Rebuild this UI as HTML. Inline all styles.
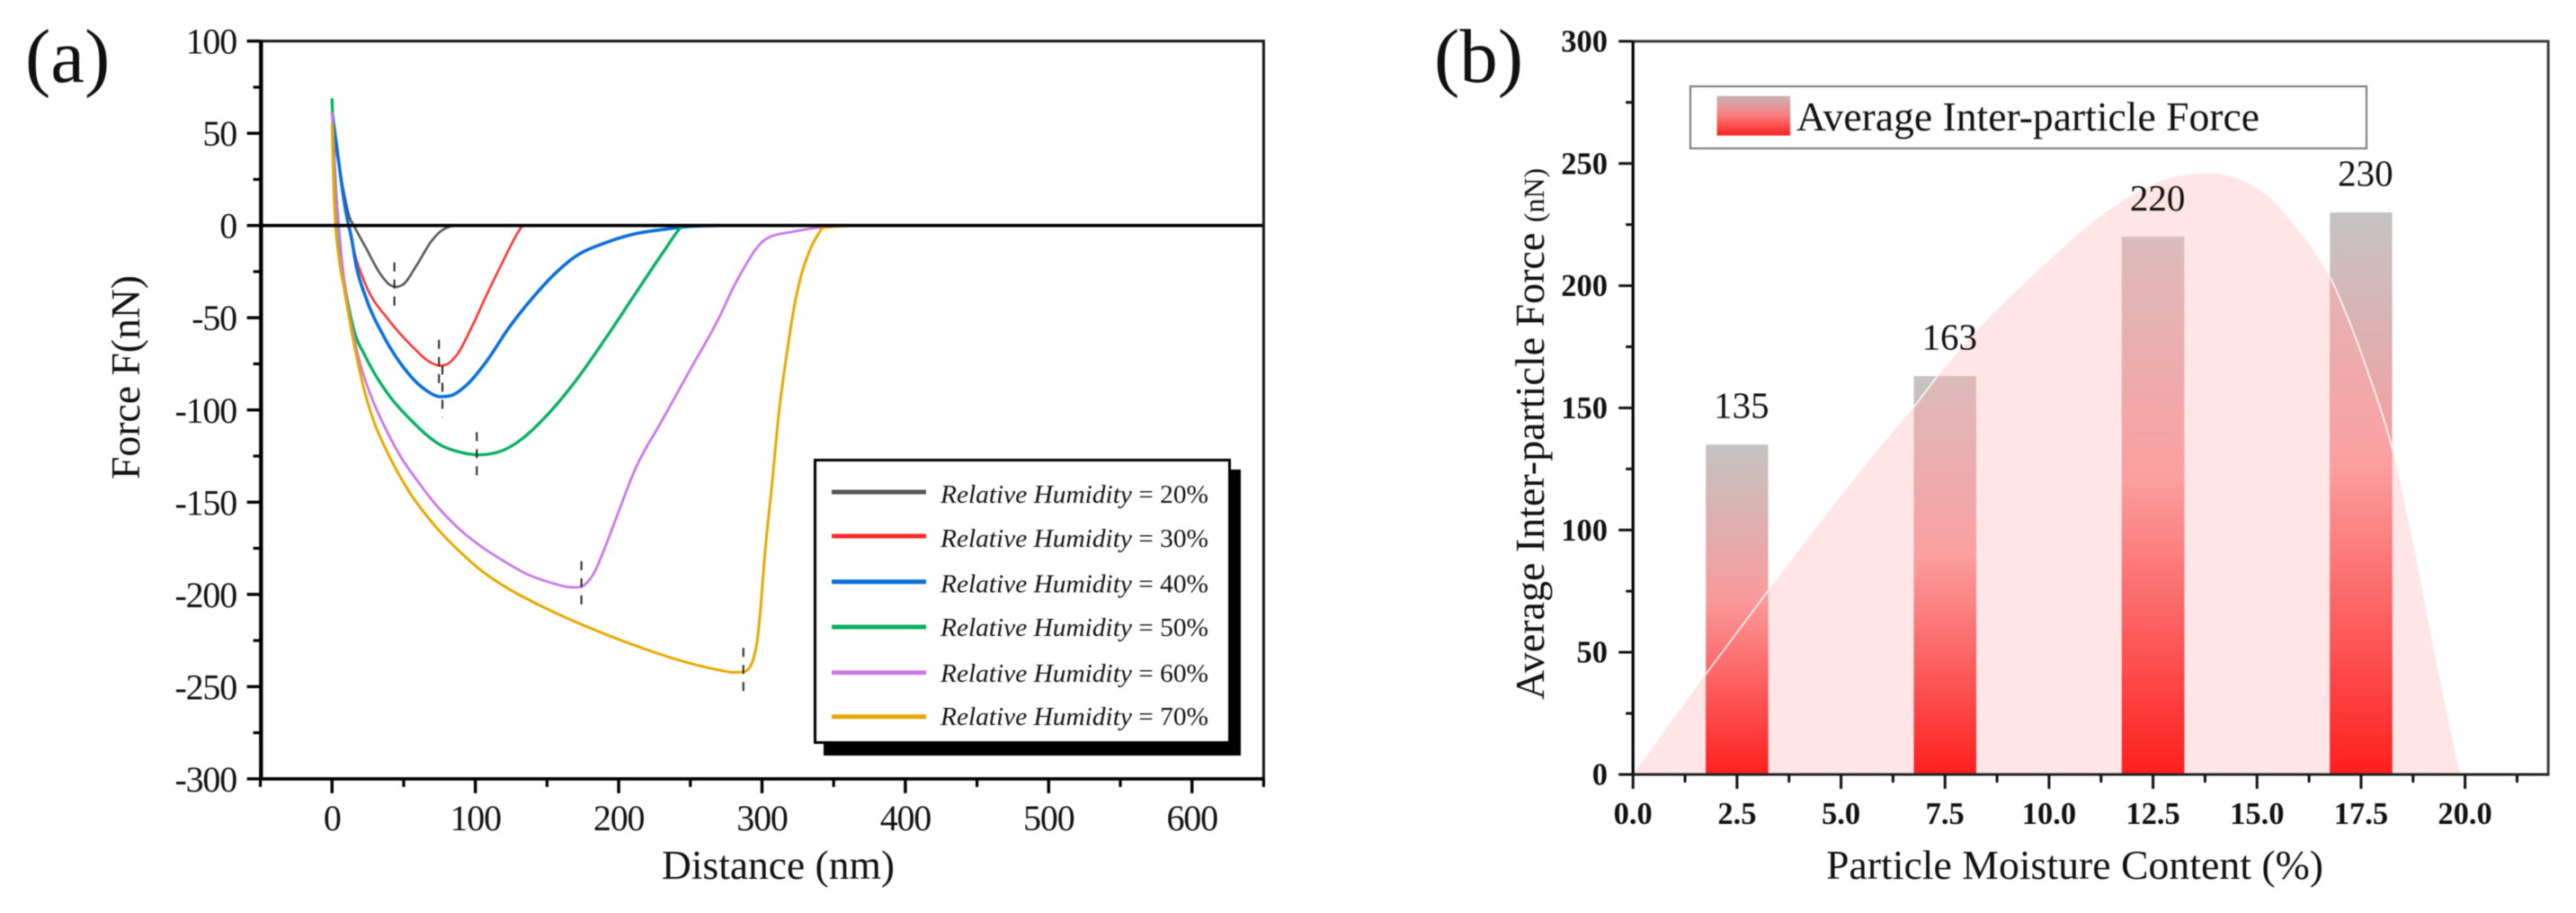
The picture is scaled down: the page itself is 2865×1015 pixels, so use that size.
<!DOCTYPE html>
<html lang="en">
<head>
<meta charset="utf-8">
<title>Force vs distance and average inter-particle force</title>
<style>
html,body{margin:0;padding:0;background:#fff;width:2865px;height:1015px;overflow:hidden}
svg{display:block;filter:blur(0.45px)}
text{font-family:"Liberation Serif",serif;fill:#111}
</style>
</head>
<body>
<svg id="figure" xmlns="http://www.w3.org/2000/svg" width="2865" height="1015" viewBox="0 0 2865 1015">
  <defs>
    <linearGradient id="barGradient" x1="0" y1="0" x2="0" y2="1">
      <stop offset="0" stop-color="#c4c4c4"/>
      <stop offset="0.47" stop-color="#fa9a9a"/>
      <stop offset="1" stop-color="#ff1f1f"/>
    </linearGradient>
    <linearGradient id="barInAreaGradient" x1="0" y1="0" x2="0" y2="1">
      <stop offset="0" stop-color="#dcbcbc"/>
      <stop offset="0.45" stop-color="#fb9f9f"/>
      <stop offset="1" stop-color="#ff1f1f"/>
    </linearGradient>
    <linearGradient id="swatchGradient" x1="0" y1="0" x2="0" y2="1">
      <stop offset="0" stop-color="#c8b4b4"/>
      <stop offset="0.5" stop-color="#fb7c7c"/>
      <stop offset="1" stop-color="#ff2020"/>
    </linearGradient>
    <clipPath id="barClip"></clipPath>
    <clipPath id="areaClip"></clipPath>
  </defs>

  <rect x="0" y="0" width="2865" height="1015" fill="#fff"/>

  <text x="28" y="91" font-size="85">(a)</text>
  <text x="1595" y="91" font-size="85">(b)</text>

  <g id="chartA"></g>
  <g id="chartB"></g>

  <text x="736" y="977" font-size="45" textLength="259" lengthAdjust="spacingAndGlyphs">Distance (nm)</text>
  <text transform="translate(155 533) rotate(-90)" font-size="45" textLength="227" lengthAdjust="spacingAndGlyphs">Force F(nN)</text>

  <g>
    <rect x="916" y="522" width="464" height="318" fill="#000"/>
    <rect x="906.5" y="511.5" width="461" height="314" fill="#fff" stroke="#000" stroke-width="3"/>
    <line x1="925" x2="1030" y1="547" y2="547" stroke="#555555" stroke-width="5"/>
    <line x1="925" x2="1030" y1="596" y2="596" stroke="#ff2a2a" stroke-width="5"/>
    <line x1="925" x2="1030" y1="646.7" y2="646.7" stroke="#0a6ed8" stroke-width="5"/>
    <line x1="925" x2="1030" y1="697" y2="697" stroke="#0aaf60" stroke-width="5"/>
    <line x1="925" x2="1030" y1="747.7" y2="747.7" stroke="#c878e6" stroke-width="5"/>
    <line x1="925" x2="1030" y1="796.7" y2="796.7" stroke="#e6a800" stroke-width="5"/>
    <text x="1046" y="559" font-size="29" textLength="298" lengthAdjust="spacingAndGlyphs" xml:space="preserve"><tspan font-style="italic">Relative Humidity</tspan> = 20%</text>
    <text x="1046" y="608" font-size="29" textLength="298" lengthAdjust="spacingAndGlyphs" xml:space="preserve"><tspan font-style="italic">Relative Humidity</tspan> = 30%</text>
    <text x="1046" y="658.5" font-size="29" textLength="298" lengthAdjust="spacingAndGlyphs" xml:space="preserve"><tspan font-style="italic">Relative Humidity</tspan> = 40%</text>
    <text x="1046" y="707" font-size="29" textLength="298" lengthAdjust="spacingAndGlyphs" xml:space="preserve"><tspan font-style="italic">Relative Humidity</tspan> = 50%</text>
    <text x="1046" y="758" font-size="29" textLength="298" lengthAdjust="spacingAndGlyphs" xml:space="preserve"><tspan font-style="italic">Relative Humidity</tspan> = 60%</text>
    <text x="1046" y="806" font-size="29" textLength="298" lengthAdjust="spacingAndGlyphs" xml:space="preserve"><tspan font-style="italic">Relative Humidity</tspan> = 70%</text>
  </g>

  <g>
    <rect x="1880" y="96" width="752" height="69" fill="#fff" stroke="#777" stroke-width="2"/>
    <rect x="1909.5" y="106.7" width="81.5" height="44" fill="url(#swatchGradient)"/>
    <text x="1998" y="145" font-size="46" textLength="515" lengthAdjust="spacingAndGlyphs">Average Inter-particle Force</text>
  </g>

  <text x="2031" y="977" font-size="46" textLength="553" lengthAdjust="spacingAndGlyphs">Particle Moisture Content (%)</text>
  <text transform="translate(1717 778) rotate(-90)" font-size="46" xml:space="preserve">Average Inter-particle Force <tspan font-size="32">(nN)</tspan></text>
</svg>

<script>
// ---- Panel (a) data ----
const distanceTicks = [0, 100, 200, 300, 400, 500, 600];
const distanceMinorTicks = [-50, 50, 150, 250, 350, 450, 550, 650];
const forceTicks = [100, 50, 0, -50, -100, -150, -200, -250, -300];
const forceMinorTicks = [75, 25, -25, -75, -125, -175, -225, -275];

const rh20Distance = [0, 2, 5, 9, 12, 16, 23.4, 33.9, 40, 44.4, 49.5, 59, 69.4, 76, 80, 86, 100];
const rh20Force = [55, 45, 32, 15, 5, -1.2, -11.8, -26.5, -32, -33.3, -32, -21.6, -8.4, -3, -1.2, 0, 0];

const rh30Distance = [0, 2, 5, 8, 11.5, 16, 23.4, 40, 54.8, 69.4, 75, 80, 86, 98.7, 107, 117.6, 132, 133, 220];
const rh30Force = [55, 45, 32, 16, 0, -15.8, -32, -51.7, -64.7, -74.5, -76, -75.3, -71.2, -53, -39, -22, -1, 0, 0];

const rh40Distance = [0, 2, 4.6, 7.5, 11, 13, 17, 23.4, 36, 50.6, 65, 75.7, 82, 92.4, 107, 123.8, 140.5, 155, 170, 190.7, 211.6, 232.6, 250, 270];
const rh40Force = [62, 50, 35, 18, 2, -4.5, -22.4, -38.7, -60, -77.7, -89, -92.8, -92.4, -87.5, -74.5, -55, -38.7, -26.5, -16.7, -9.4, -4.5, -2, -0.5, 0];

const rh50Distance = [0, 1, 2.5, 4.5, 7, 11, 15, 23.4, 40, 54.8, 75.7, 90, 102.8, 117.6, 132, 149, 170, 190.7, 211.6, 232.6, 243.5, 244.5, 270];
const rh50Force = [69, 45, 20, 0, -22, -42, -56, -71.2, -92.4, -105.3, -119, -123, -124.3, -122.4, -116, -103.7, -84.2, -61.4, -37, -12.7, -0.8, 0, 0];

const rh60Distance = [0, 1, 2, 4.6, 7, 11, 15, 20, 28, 36, 47.5, 62, 72, 88, 104, 120, 136, 152, 165, 170, 174.7, 178, 182.7, 190.7, 200, 211, 230, 250, 270, 281, 289.7, 295, 300, 306, 320.6, 340, 350];
const rh60Force = [62, 45, 25, 0, -20, -44, -60, -76, -94, -108, -124.8, -141, -151, -164, -174, -182, -189, -193.5, -196, -196.2, -195.5, -193.5, -188.5, -174, -155, -133, -106, -78, -50, -32, -20, -13.5, -9, -6, -3.5, -1, 0];

const rh70Distance = [0, 1, 2.4, 4.2, 8.7, 15, 23.4, 30, 38, 52.7, 72, 88, 104, 120, 152, 184, 216, 248, 270, 280, 287, 291, 294, 296.5, 298.5, 302, 306.6, 312, 317.6, 322, 326, 333, 339, 343, 370, 480];
const rh70Force = [55, 25, 0, -14, -35.4, -63, -92, -108, -122, -143, -163, -176, -187, -195.5, -208.6, -219.5, -229, -237, -241, -242.3, -242, -240, -235, -226, -212, -178, -143, -100, -68, -46, -31, -14, -5, -1, 0, 0];

const peakDistances = [43.5, 74.6, 77, 101, 174, 287];
const peakMarkerTops = [-20, -62, -76, -112, -182, -229];
const peakMarkerBottoms = [-46, -86, -104, -135.5, -206.5, -253];

// ---- Panel (b) data ----
const moistureTicks = [0, 2.5, 5, 7.5, 10, 12.5, 15, 17.5, 20];
const moistureTickLabels = ['0.0', '2.5', '5.0', '7.5', '10.0', '12.5', '15.0', '17.5', '20.0'];
const moistureMinorTicks = [1.25, 3.75, 6.25, 8.75, 11.25, 13.75, 16.25, 18.75, 21.25];
const avgForceTicks = [0, 50, 100, 150, 200, 250, 300];
const avgForceMinorTicks = [25, 75, 125, 175, 225, 275];

const barMoisture = [2.5, 7.5, 12.5, 17.5];
const barForce = [135, 163, 220, 230];

const curveMoisture = [0, 1.77, 3.24, 5.88, 6.78, 7.23, 8.51, 9.41, 10.3, 11.2, 12.1, 13, 13.84, 14.65, 15.37, 15.9, 16.45, 16.74, 17.18, 17.72, 18.24, 18.72, 19.34, 19.88];
const curveForce = [0, 41.5, 75, 132.8, 151, 161, 186, 201, 215, 228, 238, 244.5, 246, 243, 235, 224.5, 212, 204, 187, 162, 134, 97, 43, 0];

// ---- Axis functions ----
function distanceX(nm) { return 369.3 + 1.594 * nm; }
function forceY(f) { return 250.7 - 2.0505 * f; }
function moistureX(m) { return 1816.2 + 46.27 * m; }
function avgForceY(v) { return 861 - 2.717 * v; }

const SVG_NS = 'http://www.w3.org/2000/svg';
function make(parent, tag, attrs, text) {
  const el = document.createElementNS(SVG_NS, tag);
  for (const key in attrs) el.setAttribute(key, attrs[key]);
  if (text !== undefined) el.textContent = text;
  parent.appendChild(el);
  return el;
}

// Smooth, non-overshooting cubic path through pixel points.
function smoothPath(xs, ys) {
  const n = xs.length;
  const slopes = [];
  for (let i = 0; i < n - 1; i++) slopes.push((ys[i + 1] - ys[i]) / (xs[i + 1] - xs[i]));
  const tangents = [slopes[0]];
  for (let i = 1; i < n - 1; i++) {
    const s0 = slopes[i - 1];
    const s1 = slopes[i];
    if (s0 * s1 <= 0) { tangents.push(0); continue; }
    const h0 = xs[i] - xs[i - 1];
    const h1 = xs[i + 1] - xs[i];
    const p = (s0 * h1 + s1 * h0) / (h0 + h1);
    tangents.push(Math.sign(s0) * Math.min(2 * Math.abs(s0), 2 * Math.abs(s1), Math.abs(p)));
  }
  tangents.push(slopes[n - 2]);
  let d = 'M' + xs[0].toFixed(2) + ' ' + ys[0].toFixed(2);
  for (let i = 0; i < n - 1; i++) {
    const h = (xs[i + 1] - xs[i]) / 3;
    d += 'C' + (xs[i] + h).toFixed(2) + ' ' + (ys[i] + tangents[i] * h).toFixed(2) + ' ' +
      (xs[i + 1] - h).toFixed(2) + ' ' + (ys[i + 1] - tangents[i + 1] * h).toFixed(2) + ' ' +
      xs[i + 1].toFixed(2) + ' ' + ys[i + 1].toFixed(2);
  }
  return d;
}

// ---- Draw panel (a) ----
const chartA = document.getElementById('chartA');
const aLeft = distanceX(-50), aRight = distanceX(650), aTop = forceY(100), aBottom = forceY(-300);

function drawForceCurve(xs, fs, color, width, name) {
  const path = make(chartA, 'path', {
    d: smoothPath(xs.map(distanceX), fs.map(forceY)),
    fill: 'none', stroke: color, 'stroke-width': width, 'stroke-linejoin': 'round'
  });
  
  
}
drawForceCurve(rh20Distance, rh20Force, '#555555', 2.6, 'curve-rh-20');
drawForceCurve(rh30Distance, rh30Force, '#ff3333', 2.6, 'curve-rh-30');
drawForceCurve(rh40Distance, rh40Force, '#0a6ed8', 3.6, 'curve-rh-40');
drawForceCurve(rh50Distance, rh50Force, '#0aaf60', 3.4, 'curve-rh-50');
drawForceCurve(rh60Distance, rh60Force, '#c878e6', 2.8, 'curve-rh-60');
drawForceCurve(rh70Distance, rh70Force, '#e6a800', 3.0, 'curve-rh-70');

peakDistances.forEach(function (d, i) {
  const marker = make(chartA, 'line', {
    x1: distanceX(d), x2: distanceX(d), y1: forceY(peakMarkerTops[i]), y2: forceY(peakMarkerBottoms[i]),
    stroke: '#222', 'stroke-width': 2, 'stroke-dasharray': '10 9'
  });
  
  
});

const zeroLine = make(chartA, 'line', { x1: aLeft, x2: aRight, y1: forceY(0), y2: forceY(0), stroke: '#000', 'stroke-width': 3.6 });



const aFrame = make(chartA, 'rect', { x: aLeft, y: aTop, width: aRight - aLeft, height: aBottom - aTop, fill: 'none', stroke: '#151515', 'stroke-width': 3 });


const aLeftAxis = make(chartA, 'line', { x1: aLeft + 1, x2: aLeft + 1, y1: aTop, y2: aBottom, stroke: '#000', 'stroke-width': 3.8 });


const aBottomAxis = make(chartA, 'line', { x1: aLeft, x2: aRight, y1: aBottom, y2: aBottom, stroke: '#000', 'stroke-width': 3.8 });



distanceTicks.forEach(function (t) {
  const tick = make(chartA, 'line', { x1: distanceX(t), x2: distanceX(t), y1: aBottom, y2: aBottom + 16, stroke: '#000', 'stroke-width': 3.4 });
  
  
  const label = make(chartA, 'text', { x: distanceX(t), y: 923, 'font-size': 40, 'text-anchor': 'middle', 'letter-spacing': -1.2 }, String(t));
  
  
});
distanceMinorTicks.forEach(function (t) {
  const tick = make(chartA, 'line', { x1: distanceX(t), x2: distanceX(t), y1: aBottom, y2: aBottom + 9, stroke: '#000', 'stroke-width': 3.2 });
  
  
});
forceTicks.forEach(function (t) {
  const tick = make(chartA, 'line', { x1: aLeft - 15, x2: aLeft, y1: forceY(t), y2: forceY(t), stroke: '#000', 'stroke-width': 3.4 });
  
  
  const label = make(chartA, 'text', { x: 263, y: forceY(t) + 14, 'font-size': 40, 'text-anchor': 'end', 'letter-spacing': -1.2 }, String(t));
  
  
});
forceMinorTicks.forEach(function (t) {
  const tick = make(chartA, 'line', { x1: aLeft - 8, x2: aLeft, y1: forceY(t), y2: forceY(t), stroke: '#000', 'stroke-width': 3.2 });
  
  
});

// ---- Draw panel (b) ----
const chartB = document.getElementById('chartB');
const bLeft = moistureX(0), bRight = moistureX(22), bTop = avgForceY(300), bBottom = avgForceY(0);
const barHalfWidth = 0.75;
const curveD = smoothPath(curveMoisture.map(moistureX), curveForce.map(avgForceY));

const area = make(chartB, 'path', { d: curveD + 'Z', fill: '#ffe5e5' });


make(document.getElementById('areaClip'), 'path', { d: curveD + 'Z' });

barMoisture.forEach(function (m, i) {
  const barX = moistureX(m - barHalfWidth);
  const barW = moistureX(m + barHalfWidth) - barX;
  const barY = avgForceY(barForce[i]);
  const barH = avgForceY(0) - barY;
  const bar = make(chartB, 'rect', { x: barX, y: barY, width: barW, height: barH, fill: 'url(#barGradient)' });
  
  
  const barInArea = make(chartB, 'rect', { x: barX, y: barY, width: barW, height: barH, fill: 'url(#barInAreaGradient)', 'clip-path': 'url(#areaClip)' });
  
  
  make(document.getElementById('barClip'), 'rect', { x: barX, y: barY, width: barW, height: barH });
  const label = make(chartB, 'text', { x: moistureX(m) + 5, y: barY - 29.5, 'font-size': 41, 'text-anchor': 'middle' }, String(barForce[i]));
  
  
});

const areaEdge = make(chartB, 'path', { d: curveD, fill: 'none', stroke: '#ffffff', 'stroke-width': 1.8, 'stroke-opacity': 0.85, 'clip-path': 'url(#barClip)' });



const bFrame = make(chartB, 'rect', { x: bLeft, y: bTop, width: bRight - bLeft, height: bBottom - bTop, fill: 'none', stroke: '#3a3a3a', 'stroke-width': 3 });


const bLeftAxis = make(chartB, 'line', { x1: bLeft, x2: bLeft, y1: bTop, y2: bBottom, stroke: '#000', 'stroke-width': 3 });


const bBottomAxis = make(chartB, 'line', { x1: bLeft, x2: bRight, y1: bBottom, y2: bBottom, stroke: '#222', 'stroke-width': 3 });



moistureTicks.forEach(function (t, i) {
  const tick = make(chartB, 'line', { x1: moistureX(t), x2: moistureX(t), y1: bBottom, y2: bBottom + 16, stroke: '#111', 'stroke-width': 3 });
  
  
  const label = make(chartB, 'text', { x: moistureX(t), y: 916, 'font-size': 34.5, 'font-weight': 'bold', 'text-anchor': 'middle' }, moistureTickLabels[i]);
  
  
});
moistureMinorTicks.forEach(function (t) {
  const tick = make(chartB, 'line', { x1: moistureX(t), x2: moistureX(t), y1: bBottom, y2: bBottom + 9, stroke: '#111', 'stroke-width': 3 });
  
  
});
avgForceTicks.forEach(function (t) {
  const tick = make(chartB, 'line', { x1: bLeft - 16, x2: bLeft, y1: avgForceY(t), y2: avgForceY(t), stroke: '#111', 'stroke-width': 3 });
  
  
  const label = make(chartB, 'text', { x: 1788, y: avgForceY(t) + 11.5, 'font-size': 34.5, 'font-weight': 'bold', 'text-anchor': 'end' }, String(t));
  
  
});
avgForceMinorTicks.forEach(function (t) {
  const tick = make(chartB, 'line', { x1: bLeft - 8, x2: bLeft, y1: avgForceY(t), y2: avgForceY(t), stroke: '#111', 'stroke-width': 3 });
  
  
});
</script>
</body>
</html>
